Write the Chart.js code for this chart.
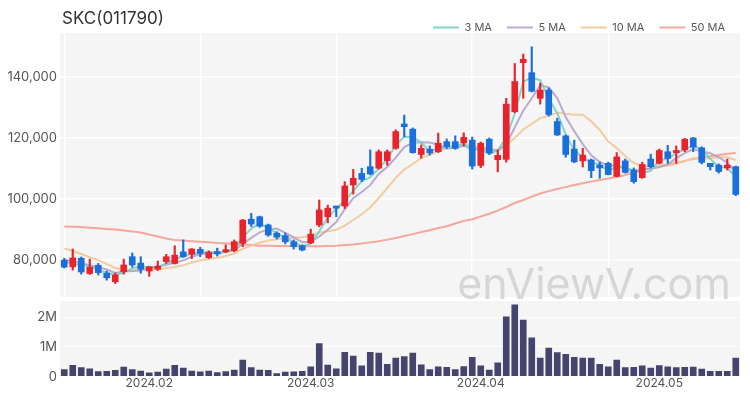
<!DOCTYPE html>
<html>
<head>
<meta charset="utf-8">
<script src="https://cdn.jsdelivr.net/npm/chart.js@4.4.1/dist/chart.umd.min.js"></script>
<style>
body { margin: 0; background: #fff; }
#wrap { position: relative; width: 750px; height: 400px; font-family: Inter, sans-serif; }
#title { position: absolute; left: 62px; top: 8px; font-size: 17px; color: #333; }
canvas { position: absolute; left: 0; }
</style>
</head>
<body>
<div id="wrap">
  <canvas id="price" width="750" height="300" style="top:0"></canvas>
  <canvas id="volume" width="750" height="100" style="top:300px"></canvas>
  <div id="title">SKC(011790)</div>
</div>
<script>
const dates = [
  '2024.01.18','2024.01.19','2024.01.22','2024.01.23','2024.01.24','2024.01.25','2024.01.26','2024.01.29','2024.01.30','2024.01.31',
  '2024.02.01','2024.02.02','2024.02.05','2024.02.06','2024.02.07','2024.02.08','2024.02.13','2024.02.14','2024.02.15','2024.02.16',
  '2024.02.19','2024.02.20','2024.02.21','2024.02.22','2024.02.23','2024.02.26','2024.02.27','2024.02.28','2024.02.29','2024.03.04',
  '2024.03.05','2024.03.06','2024.03.07','2024.03.08','2024.03.11','2024.03.12','2024.03.13','2024.03.14','2024.03.15','2024.03.18',
  '2024.03.19','2024.03.20','2024.03.21','2024.03.22','2024.03.25','2024.03.26','2024.03.27','2024.03.28','2024.03.29','2024.04.01',
  '2024.04.02','2024.04.03','2024.04.04','2024.04.05','2024.04.08','2024.04.09','2024.04.11','2024.04.12','2024.04.15','2024.04.16',
  '2024.04.17','2024.04.18','2024.04.19','2024.04.22','2024.04.23','2024.04.24','2024.04.25','2024.04.26','2024.04.29','2024.04.30',
  '2024.05.02','2024.05.03','2024.05.07','2024.05.08','2024.05.09','2024.05.10','2024.05.13','2024.05.14','2024.05.16','2024.05.17'
];

const opens = [
  80000, 77800, 80600, 75600, 78300, 75700, 72900, 76200, 81100, 79000,
  76400, 77000, 79500, 78900, 82700, 81900, 83500, 80800, 82800, 82700,
  83100, 85500, 93400, 94200, 91500, 88800, 88000, 86000, 84700, 85600,
  91500, 94200, 97700, 97700, 104600, 108400, 110600, 110100, 112600, 116600,
  124600, 122900, 114600, 116300, 115500, 118800, 118800, 118400, 119300, 111000,
  119600, 112900, 113000, 128600, 144700, 141400, 133000, 135700, 125400, 120700,
  116400, 112500, 112800, 111100, 111700, 107400, 112500, 109500, 107000, 113100,
  111700, 115500, 115200, 116100, 120000, 116800, 111700, 111100, 110200, 110600
];
const highs = [
  80600, 83600, 81000, 80300, 78900, 76400, 75800, 80300, 82300, 81100,
  77800, 79700, 81900, 84700, 86600, 83800, 84200, 83000, 83900, 85000,
  86600, 93300, 95300, 94400, 91800, 89300, 88900, 86600, 85000, 90100,
  99700, 98000, 97700, 105700, 109700, 110100, 116100, 116100, 116100, 122700,
  127500, 123300, 117700, 117400, 121600, 119700, 120700, 121700, 120300, 118700,
  120000, 116100, 133000, 144400, 147500, 149900, 138000, 136400, 126500, 121000,
  119300, 116600, 113100, 112100, 112100, 115200, 113100, 110200, 112100, 114700,
  116400, 117600, 117400, 119900, 120200, 117100, 111700, 111500, 113100, 110800
];
const lows = [
  77400, 76700, 75400, 75300, 75100, 73400, 72300, 75400, 77700, 75700,
  74700, 76600, 78900, 78700, 80900, 80500, 81100, 80500, 81300, 82400,
  82700, 84400, 91000, 90700, 87800, 86900, 85300, 83600, 83000, 85400,
  90900, 92200, 94200, 96900, 101600, 105700, 107900, 109800, 111100, 116300,
  120400, 115000, 113400, 114400, 115200, 116600, 116300, 117400, 109800, 110300,
  114600, 108900, 112100, 128300, 133000, 135100, 131100, 127200, 120800, 113700,
  111900, 110500, 107000, 106800, 107900, 107300, 108500, 105200, 106800, 110200,
  111500, 111700, 111700, 115500, 115500, 111500, 109500, 108500, 109500, 101100
];
const closes = [
  77700, 80700, 76100, 77700, 75900, 74200, 75100, 78400, 78400, 77000,
  77800, 78000, 81100, 81600, 81100, 83600, 82200, 82500, 82000, 83400,
  86000, 93100, 91800, 91100, 88200, 87500, 86000, 84400, 83300, 88500,
  96400, 97000, 97000, 104300, 106800, 106400, 108200, 115500, 115500, 122100,
  123700, 115200, 116600, 115100, 118300, 117200, 116600, 120200, 110800, 118300,
  115100, 114300, 131100, 138500, 145800, 135300, 135700, 127700, 121000, 114600,
  112200, 114400, 109300, 110200, 108000, 113800, 108700, 105700, 111300, 110600,
  115900, 113300, 115900, 119600, 117000, 112000, 110600, 109000, 111100, 101500
];

const ma3 = [
  79300, 79000, 78170, 78170, 76570, 75930, 75070, 75900, 77300, 77930,
  77730, 77600, 78970, 80230, 81270, 82100, 82300, 82770, 82230, 82630,
  83800, 87500, 90300, 92000, 90370, 88930, 87230, 85970, 84570, 85400,
  89400, 93970, 96800, 99430, 102700, 105830, 107130, 110030, 113070, 117700,
  120430, 120330, 118500, 115630, 116670, 116870, 117370, 118000, 115870, 116430,
  114730, 115900, 120170, 127970, 138470, 139870, 138930, 132900, 128130, 121100,
  115930, 113730, 111970, 111300, 109170, 110670, 110170, 109400, 108570, 109200,
  112600, 113270, 115030, 116270, 117500, 116200, 113200, 110530, 110230, 107200
];
const ma5 = [
  80000, 79600, 79000, 78300, 77620, 76920, 75800, 76260, 76400, 76620,
  77340, 77920, 78460, 79100, 79920, 81080, 81920, 82200, 82280, 82740,
  83220, 85400, 87260, 89080, 90040, 90340, 88920, 87440, 85880, 85940,
  87720, 89920, 92440, 96640, 100300, 102300, 104540, 108240, 110480, 113540,
  117000, 118400, 118620, 118540, 117780, 116480, 116760, 117480, 116620, 116620,
  116200, 115740, 117920, 123460, 128960, 133000, 137280, 136600, 133100, 126860,
  122240, 117980, 114300, 112140, 110820, 111140, 110000, 109280, 109500, 110020,
  110440, 111360, 113400, 115060, 116340, 115560, 115020, 113640, 111940, 108840
];
const ma10 = [
  83840, 82950, 81970, 80980, 80000, 78690, 77380, 76720, 76560, 77120,
  77130, 76860, 77360, 77750, 78270, 79210, 79920, 80330, 80690, 81330,
  82150, 83660, 84730, 85680, 86390, 86780, 87160, 87350, 87480, 87990,
  89030, 89420, 89940, 91260, 93120, 95010, 97230, 100340, 103560, 106920,
  109650, 111470, 113430, 114510, 115660, 116740, 117580, 118050, 117580, 117200,
  116340, 116250, 117700, 120040, 122790, 124600, 126510, 127260, 128280, 127910,
  127620, 127630, 125450, 122620, 118840, 116690, 113990, 111790, 110820, 110620,
  110990, 110880, 111540, 112460, 113360, 113180, 113370, 113700, 113680, 112770
];
const ma50 = [
  91000, 90900, 90800, 90600, 90400, 90200, 90000, 89700, 89400, 89000,
  88400, 87700, 87100, 86600, 86400, 86200, 86000, 85800, 85600, 85500,
  85300, 85100, 84900, 84700, 84700, 84600, 84600, 84500, 84500, 84500,
  84500, 84600, 84700, 84900, 85100, 85400, 85800, 86200, 86700, 87200,
  87900, 88500, 89200, 89800, 90500, 91100, 92000, 92800, 93400, 94300,
  95200, 96200, 97400, 98700, 99700, 100800, 101800, 102600, 103300, 103900,
  104600, 105200, 105700, 106200, 106700, 107200, 107900, 108700, 109500, 110200,
  110800, 111300, 111800, 112500, 113100, 113600, 114000, 114400, 114800, 115100
];

const volumes = [
  250000, 390000, 310000, 270000, 180000, 190000, 220000, 330000, 250000, 200000,
  140000, 160000, 260000, 390000, 300000, 200000, 170000, 200000, 150000, 180000,
  230000, 570000, 310000, 230000, 220000, 110000, 160000, 170000, 190000, 340000,
  1120000, 400000, 270000, 830000, 700000, 370000, 830000, 800000, 420000, 630000,
  680000, 800000, 410000, 250000, 340000, 320000, 250000, 350000, 660000, 370000,
  230000, 470000, 2020000, 2420000, 1910000, 1310000, 630000, 970000, 820000, 760000,
  660000, 630000, 630000, 420000, 340000, 570000, 310000, 320000, 370000, 300000,
  380000, 340000, 310000, 320000, 330000, 260000, 190000, 190000, 190000, 630000
];

const priceTicks = [80000, 100000, 120000, 140000];
const volumeTicks = [0, 1000000, 2000000];

const UP = '#e8232b';
const DOWN = '#1b6fdb';
const candleColors = closes.map((c, i) => c >= opens[i] ? UP : DOWN);
const FONT = 'Inter';

// grey plot background, white grid drawn over it
const plotBg = {
  id: 'plotBg',
  beforeDraw(chart) {
    const { ctx, chartArea: a } = chart;
    ctx.save();
    ctx.fillStyle = '#f5f5f5';
    ctx.fillRect(a.left, a.top, a.right - a.left, a.bottom - a.top);
    ctx.restore();
  }
};

const watermark = {
  id: 'watermark',
  beforeDatasetsDraw(chart) {
    const { ctx, chartArea: a } = chart;
    ctx.save();
    ctx.font = '43px ' + FONT;
    ctx.fillStyle = '#d6d6d6';
    ctx.textAlign = 'right';
    ctx.fillText('enViewV.com', a.right - 9, a.bottom - 11);
    ctx.restore();
  }
};

// fixed axis width, and no extra room for the end labels
function fitY(s) {
  s.width = 60;
  s.paddingTop = 0;
  s.paddingBottom = 0;
}

function maLine(label, data, color) {
  return {
    type: 'line',
    label: label,
    data: data,
    borderColor: color,
    backgroundColor: color,
    borderWidth: 2,
    pointRadius: 0,
    order: 2,
  };
}

new Chart(document.getElementById('price'), {
  type: 'bar',
  data: {
    labels: dates,
    datasets: [
      maLine('3 MA', ma3, 'rgba(116,210,197,0.9)'),
      maLine('5 MA', ma5, 'rgba(180,162,204,0.9)'),
      maLine('10 MA', ma10, 'rgba(242,198,150,0.9)'),
      maLine('50 MA', ma50, 'rgba(244,160,145,0.9)'),
      {
        label: 'wick',
        data: lows.map((l, i) => [l, highs[i]]),
        backgroundColor: candleColors,
        barThickness: 1.5,
        grouped: false,
        order: 1,
      },
      {
        label: 'body',
        data: opens.map((o, i) => [o, closes[i]]),
        backgroundColor: candleColors,
        barThickness: 6,
        grouped: false,
        order: 0,
      },
    ]
  },
  options: {
    responsive: false,
    animation: false,
    layout: { padding: { left: 0, right: 10, top: 7, bottom: 3 } },
    plugins: {
      legend: {
        position: 'top',
        align: 'end',
        maxHeight: 26,
        labels: {
          filter: item => item.text.includes('MA'),
          usePointStyle: true,
          pointStyle: 'line',
          pointStyleWidth: 26,
          padding: 15,
          color: '#555',
          font: { size: 11, family: FONT },
        }
      },
      tooltip: { enabled: false },
    },
    scales: {
      x: {
        grid: {
          offset: false,
          color: c => c.index % 16 === 0 ? '#ffffff' : 'rgba(0,0,0,0)',
          lineWidth: 1.5,
          drawTicks: false,
        },
        ticks: { display: false, autoSkip: false },
        border: { display: false },
      },
      y: {
        min: 67900,
        max: 154400,
        afterBuildTicks: s => { s.ticks = priceTicks.map(v => ({ value: v })); },
        afterFit: fitY,
        grid: { color: '#ffffff', lineWidth: 1.5, drawTicks: false },
        border: { display: false },
        ticks: {
          color: '#555',
          padding: 3,
          font: { size: 13, family: FONT },
          callback: v => v.toLocaleString('en-US'),
        },
      }
    }
  },
  plugins: [plotBg, watermark]
});

new Chart(document.getElementById('volume'), {
  type: 'bar',
  data: {
    labels: dates,
    datasets: [{
      data: volumes,
      backgroundColor: '#45446d',
      barPercentage: 0.78,
      categoryPercentage: 1,
    }]
  },
  options: {
    responsive: false,
    animation: false,
    layout: { padding: { left: 0, right: 10, top: 1, bottom: 9 } },
    plugins: { legend: { display: false }, tooltip: { enabled: false } },
    scales: {
      x: {
        grid: { display: false, drawTicks: false },
        border: { display: false },
        ticks: {
          autoSkip: false,
          maxRotation: 0,
          padding: 0,
          color: '#555',
          font: { size: 12, family: FONT },
          callback: (v, i) => (i > 0 && dates[i].slice(0, 7) !== dates[i - 1].slice(0, 7)) ? dates[i].slice(0, 7) : null,
        },
      },
      y: {
        min: 0,
        max: 2540000,
        afterBuildTicks: s => { s.ticks = volumeTicks.map(v => ({ value: v })); },
        afterFit: fitY,
        grid: { color: '#ffffff', lineWidth: 1, drawTicks: false },
        border: { display: false },
        ticks: {
          color: '#555',
          padding: 3,
          font: { size: 13, family: FONT },
          callback: v => v === 0 ? '0' : (v / 1000000) + 'M',
        },
      }
    }
  },
  plugins: [plotBg]
});
</script>
</body>
</html>
